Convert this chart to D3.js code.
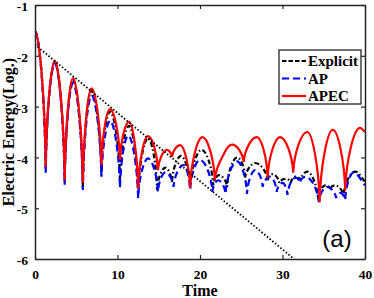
<!DOCTYPE html>
<html>
<head>
<meta charset="utf-8">
<script src="https://cdn.jsdelivr.net/npm/d3@7"></script>
<style>
  body { margin: 0; background: #fff; }
  svg { display: block; }
</style>
</head>
<body>
<div id="chart"></div>
<script>
// values: [time, log10 energy]
const explicit = [[0,-1.52],[1.3,-4.22],[2.4,-2.12],[3.6,-4.5],[4.6,-2.47],[5.8,-4.62],[6.85,-2.68],[8.05,-4.35],[9.1,-3.1],[10.3,-4.45],[11.4,-3.38],[12.5,-4.75],[13.7,-3.62],[14.8,-4.64],[15.8,-4.2],[16.6,-4.5],[17.7,-3.97],[18.8,-4.6],[20.2,-3.85],[21.6,-4.55],[22.3,-4.35],[23.3,-4.58],[24.5,-4.0],[25.5,-4.4],[26.7,-4.11],[28.2,-4.45],[28.8,-4.33],[29.6,-4.5],[30.4,-4.42],[31.0,-4.5],[31.6,-4.38],[32.2,-4.45],[33.0,-4.28],[34.3,-4.82],[35.2,-4.55],[35.8,-4.62],[36.4,-4.55],[37.4,-4.76],[38.8,-4.28],[40,-4.48]];
const ap = [[0,-1.52],[1.3,-4.31],[2.4,-2.15],[3.6,-4.54],[4.6,-2.53],[5.8,-4.64],[6.85,-2.78],[8.05,-4.38],[9.1,-3.28],[10.3,-4.6],[11.3,-3.57],[12.5,-4.8],[13.7,-4.02],[14.9,-4.68],[15.8,-4.3],[16.8,-4.58],[18.0,-4.15],[18.8,-4.64],[20.0,-4.05],[21.5,-4.68],[22.2,-4.45],[23.1,-4.72],[24.5,-4.08],[25.7,-4.72],[26.7,-4.25],[27.6,-4.58],[28.5,-4.38],[29.3,-4.68],[30.0,-4.5],[30.6,-4.74],[31.6,-4.4],[32.1,-4.5],[32.8,-4.38],[34.4,-4.88],[35.4,-4.58],[36.5,-4.8],[37.0,-4.7],[37.6,-4.84],[38.6,-4.3],[40,-4.55]];
const apec = [[0,-1.52],[1.3,-4.19],[2.4,-2.1],[3.6,-4.45],[4.6,-2.44],[5.8,-4.5],[6.85,-2.64],[8.05,-4.15],[9.1,-3.05],[10.3,-4.05],[11.4,-3.3],[12.5,-4.62],[13.7,-3.58],[14.9,-4.25],[16.0,-3.85],[16.6,-3.99],[17.6,-3.76],[18.8,-4.6],[20.3,-3.6],[21.8,-4.45],[23.0,-3.9],[23.9,-3.75],[25.3,-4.09],[26.9,-3.6],[28.2,-4.4],[29.7,-3.6],[31.3,-4.3],[33.0,-3.5],[34.5,-4.88],[36.1,-3.46],[37.6,-4.65],[39.4,-3.42],[40,-3.5]];
const damping = [[0,-1.78],[31.4,-6]];

const xTicks = [0, 10, 20, 30, 40];
const yTicks = [-6, -5, -4, -3, -2, -1];

const width = 374, height = 298;
const margin = { top: 5, right: 9, bottom: 39, left: 35 };
const innerW = width - margin.left - margin.right;
const innerH = height - margin.top - margin.bottom;

const svg = d3.select("#chart").append("svg")
  .attr("width", width).attr("height", height);

const g = svg.append("g").attr("transform", `translate(${margin.left},${margin.top})`);

const x = d3.scaleLinear().domain([0, 40]).range([0, innerW]);
const y = d3.scaleLinear().domain([-6, -1]).range([innerH, 0]);

// log|E| curve: sharp cusps at the minima, round tops
function cuspCurve(context) {
  let pts;
  return {
    areaStart() {}, areaEnd() {},
    lineStart() { pts = []; },
    point(px, py) { pts.push([+px, +py]); },
    lineEnd() {
      const n = pts.length;
      if (!n) return;
      const kind = pts.map((p, i) => {
        const a = pts[i - 1], b = pts[i + 1];
        if (a && b && p[1] > a[1] && p[1] > b[1]) return "low";
        if (p[1] < (a ? a[1] : Infinity) && p[1] < (b ? b[1] : Infinity)) return "high";
        return "mid";
      });
      const slope = i => {
        const a = pts[Math.max(0, i - 1)], b = pts[Math.min(n - 1, i + 1)];
        return (b[1] - a[1]) / (b[0] - a[0]);
      };
      context.moveTo(pts[0][0], pts[0][1]);
      for (let i = 0; i < n - 1; i++) {
        const A = pts[i], B = pts[i + 1];
        const dx = B[0] - A[0], dy = B[1] - A[1];
        let c1, c2;
        if (kind[i] === "high") c1 = [A[0] + dx * 0.4, A[1]];
        else if (kind[i] === "low") c1 = [A[0] + dx * 0.07, A[1] + dy * 0.5];
        else c1 = [A[0] + dx / 3, A[1] + slope(i) * dx / 3];
        if (kind[i + 1] === "high") c2 = [B[0] - dx * 0.4, B[1]];
        else if (kind[i + 1] === "low") c2 = [B[0] - dx * 0.07, B[1] - dy * 0.5];
        else c2 = [B[0] - dx / 3, B[1] - slope(i + 1) * dx / 3];
        context.bezierCurveTo(c1[0], c1[1], c2[0], c2[1], B[0], B[1]);
      }
    }
  };
}

svg.append("defs").append("clipPath").attr("id", "clip")
  .append("rect").attr("width", innerW).attr("height", innerH);

const plot = g.append("g").attr("clip-path", "url(#clip)");

const line = d3.line().x(d => x(d[0])).y(d => y(d[1])).curve(cuspCurve);

const series = [
  { name: "Explicit", data: explicit, color: "#000000", dash: "5,2.5,1.5,2.5" },
  { name: "AP", data: ap, color: "#0000ff", dash: "7,4" },
  { name: "APEC", data: apec, color: "#ff0000", dash: null }
];

series.forEach(s => {
  plot.append("path")
    .datum(s.data)
    .attr("fill", "none")
    .attr("stroke", s.color)
    .attr("stroke-width", 2.2)
    .attr("stroke-dasharray", s.dash)
    .attr("d", line);
});

plot.append("path")
  .datum(damping)
  .attr("fill", "none")
  .attr("stroke", "#000")
  .attr("stroke-width", 1.8)
  .attr("stroke-dasharray", "1.5,2")
  .attr("d", d3.line().x(d => x(d[0])).y(d => y(d[1])));

// axes box with inward ticks on all four sides
const axisColor = "#262626";
const tickLen = 4;
const axFont = "'Liberation Serif', 'Times New Roman', serif";
const fmt = d => String(d);

const axB = g.append("g").attr("transform", `translate(0,${innerH})`)
  .call(d3.axisBottom(x).tickValues(xTicks).tickFormat(fmt).tickSizeInner(-tickLen).tickSizeOuter(0).tickPadding(10));
const axT = g.append("g")
  .call(d3.axisTop(x).tickValues(xTicks).tickSizeInner(-tickLen).tickSizeOuter(0).tickFormat(""));
const axL = g.append("g")
  .call(d3.axisLeft(y).tickValues(yTicks).tickFormat(fmt).tickSizeInner(-tickLen).tickSizeOuter(0).tickPadding(7));
const axR = g.append("g").attr("transform", `translate(${innerW},0)`)
  .call(d3.axisRight(y).tickValues(yTicks).tickSizeInner(-tickLen).tickSizeOuter(0).tickFormat(""));

[axB, axT, axL, axR].forEach(a => {
  a.attr("font-family", axFont).attr("font-size", 13);
  a.select(".domain").attr("stroke", axisColor).attr("stroke-width", 1.5);
  a.selectAll(".tick line").attr("stroke", axisColor).attr("stroke-width", 1.2);
  a.selectAll("text")
    .attr("fill", "#000")
    .style("font-family", axFont)
    .style("font-weight", "bold")
    .style("font-size", "13.5px");
});
axB.selectAll(".tick text").attr("dy", "0.71em");
axL.selectAll(".tick text").attr("dy", "0.42em");

svg.append("text")
  .attr("x", margin.left + innerW / 2).attr("y", 296)
  .attr("text-anchor", "middle")
  .style("font-family", axFont).style("font-weight", "bold").style("font-size", "16px")
  .text("Time");

svg.append("text")
  .attr("transform", `translate(14,${margin.top + 127}) rotate(-90)`)
  .attr("text-anchor", "middle")
  .style("font-family", axFont).style("font-weight", "bold").style("font-size", "16px")
  .text("Electric Energy(Log.)");

svg.append("text")
  .attr("x", 337).attr("y", 247)
  .attr("text-anchor", "middle")
  .style("font-family", "'Liberation Sans', Arial, sans-serif").style("font-size", "24px")
  .text("(a)");

// legend
const legend = svg.append("g").attr("transform", "translate(279,50)");
legend.append("rect")
  .attr("width", 82).attr("height", 54)
  .attr("fill", "#fff").attr("stroke", axisColor).attr("stroke-width", 1.3);
series.forEach((s, i) => {
  const row = legend.append("g").attr("transform", `translate(0,${11 + i * 17.5})`);
  row.append("line")
    .attr("x1", 3).attr("x2", 27)
    .attr("stroke", s.color).attr("stroke-width", 2.2)
    .attr("stroke-dasharray", s.name === "Explicit" ? "4.5,2" : s.dash);
  row.append("text")
    .attr("x", 29).attr("y", 5)
    .style("font-family", axFont).style("font-weight", "bold").style("font-size", "15px")
    .text(s.name);
});
</script>
</body>
</html>
